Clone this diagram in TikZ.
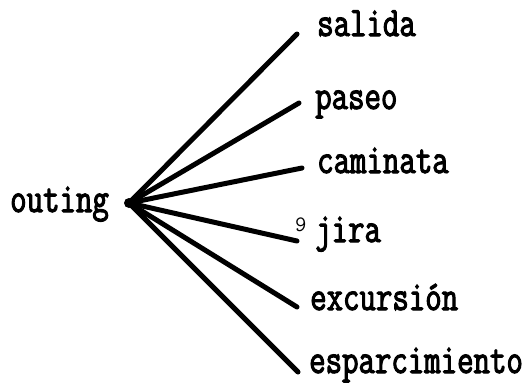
\documentclass[tikz,border=0pt]{standalone}
\usepackage{fontspec}
\newfontfamily\tw{Latin Modern Mono}[FakeStretch=0.76,FakeBold=2.5]
\newfontfamily\hand{Latin Modern Mono}
\begin{document}
\begin{tikzpicture}[x=1pt,y=-1pt,
  word/.style={anchor=base west,inner sep=0pt,font=\tw\fontsize{42}{44}\selectfont},
  branch/.style={line width=5pt,line cap=round},
  hubdot/.style={circle,fill=black,inner sep=0pt,minimum size=10pt}]
\useasboundingbox (0,0) rectangle (532,383);
\node[word] (outing) at (10,212) {outing};
\node[hubdot] (hub) at (129,203) {};
\node[word] (salida) at (317,36) {salida};
\node[word] (paseo) at (315,109) {paseo};
\node[word] (caminata) at (317,173) {caminata};
\node[word] (jira) at (315,242) {jira};
\node[word] (excursion) at (310,310) {excursión};
\node[word] (esparcimiento) at (309,373) {esparcimiento};
\node[anchor=base west,inner sep=0pt,font=\hand\fontsize{22}{22}\selectfont] (mark) at (295,231) {9};
\coordinate (e1) at (297,34);
\coordinate (e2) at (299,103);
\coordinate (e3) at (302,168);
\coordinate (e4) at (297,241);
\coordinate (e5) at (297,307);
\coordinate (e6) at (298,372);
\foreach \e in {e1,e2,e3,e4,e5,e6}
  \draw[branch] (hub.center) -- (\e);
\end{tikzpicture}
\end{document}
